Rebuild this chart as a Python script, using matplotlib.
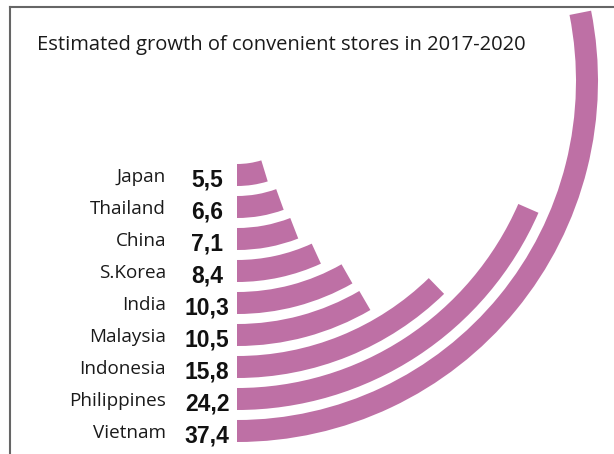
import numpy as np
import matplotlib.pyplot as plt
from matplotlib.lines import Line2D

# growth of convenience stores 2017-2020, innermost ring first
countries = ["Japan", "Thailand", "China", "S.Korea", "India",
             "Malaysia", "Indonesia", "Philippines", "Vietnam"]
growth = np.array([5.5, 6.6, 7.1, 8.4, 10.3, 10.5, 15.8, 24.2, 37.4])
title = "Estimated growth of convenient stores in 2017-2020"

W, H = 614, 454
cx, cy = 237, 81          # ring centre in pixels (from top-left)
rmax = 370
ring0, pitch, thick = 83, 32, 22
deg_base, deg_per_unit = 2.5, 2.64
bar_color = "#be70a5"

fig = plt.figure(figsize=(W / 100, H / 100), dpi=100)
ax = fig.add_axes([(cx - rmax) / W, (H - cy - rmax) / H, 2 * rmax / W, 2 * rmax / H],
                  projection="polar")
ax.set_theta_zero_location("S")
ax.set_theta_direction(1)
ax.set_ylim(0, rmax)
ax.set_axis_off()

inner = ring0 + pitch * np.arange(len(countries))
sweep = np.deg2rad(deg_base + deg_per_unit * growth)
ax.bar(0, thick, width=sweep, bottom=inner, align="edge",
       color=bar_color, linewidth=0)

for name, val, r in zip(countries, growth, inner + thick / 2):
    ax.annotate(name, xy=(0, r), xytext=(-71, 0), textcoords="offset pixels",
                ha="right", va="center_baseline", fontsize=13.6,
                family="Open Sans", color="#1a1a1a")
    ax.annotate(f"{val:.1f}".replace(".", ","), xy=(0, r), xytext=(-30, -2),
                textcoords="offset pixels", ha="center", va="center_baseline",
                fontsize=16.5, fontweight="bold",
                family=["Liberation Sans", "DejaVu Sans"], color="#111111")

fig.text(37 / W, 1 - 50 / H, title, ha="left", va="baseline",
         fontsize=14.5, family="Open Sans", color="#1a1a1a")

# thin frame on the left and top
fig.add_artist(Line2D([10 / W, 10 / W], [0, 1 - 7 / H], transform=fig.transFigure,
                      color="#666666", lw=1.5))
fig.add_artist(Line2D([10 / W, 1], [1 - 7 / H, 1 - 7 / H], transform=fig.transFigure,
                      color="#666666", lw=1.5))

fig.savefig("out.png", dpi=100)
